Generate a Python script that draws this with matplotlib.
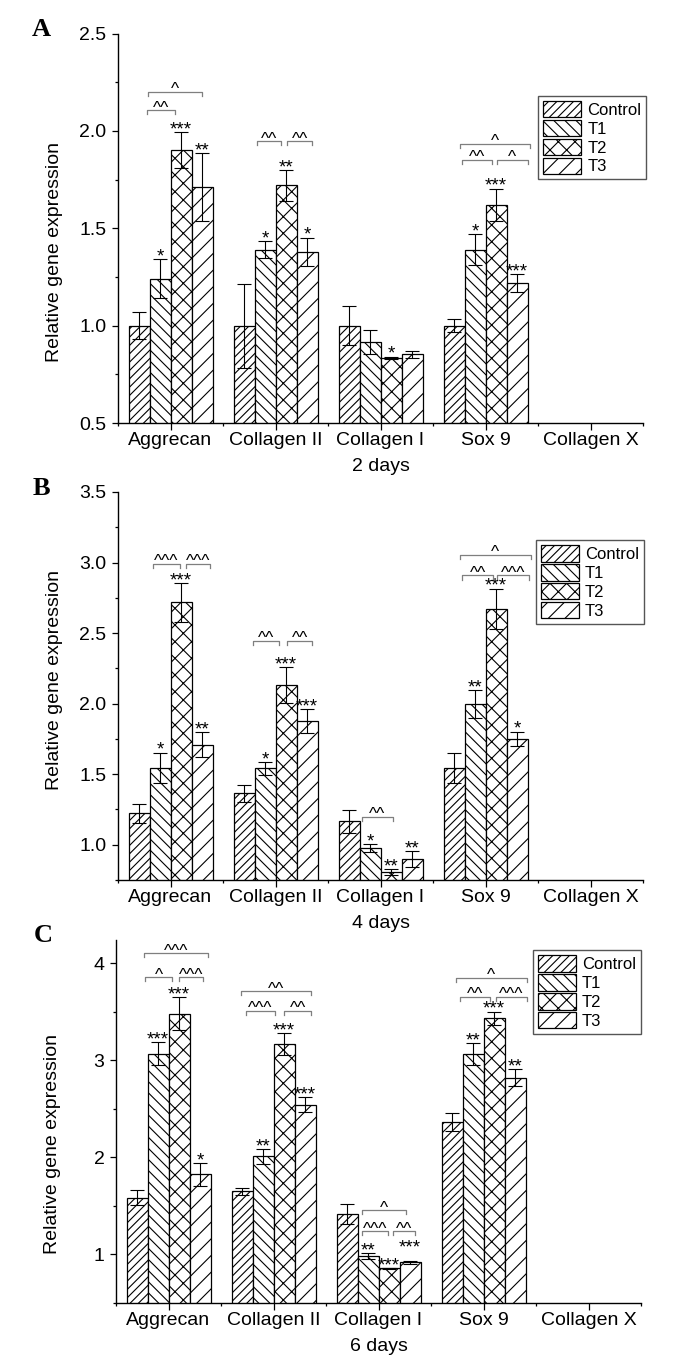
import numpy as np
import matplotlib.pyplot as plt
from matplotlib.ticker import MultipleLocator, FixedLocator

plt.rcParams['font.family'] = ['Liberation Sans', 'DejaVu Sans']
plt.rcParams['hatch.linewidth'] = 0.8

nan = np.nan

genes = ["Aggrecan", "Collagen II", "Collagen I", "Sox 9", "Collagen X"]
groups = ["Control", "T1", "T2", "T3"]
hatches = ['////', '\\\\\\', 'xx', '//']

# 2 days (rows: Control, T1, T2, T3)
day2_mean = [
    [1.00, 1.00, 1.00, 1.00, nan],
    [1.24, 1.39, 0.915, 1.39, nan],
    [1.90, 1.72, 0.836, 1.62, nan],
    [1.71, 1.38, 0.852, 1.22, nan],
]
day2_err = [
    [0.068, 0.216, 0.10, 0.034, nan],
    [0.10, 0.045, 0.06, 0.08, nan],
    [0.093, 0.08, 0.005, 0.084, nan],
    [0.175, 0.072, 0.017, 0.045, nan],
]
day2_stars = [
    ["", "", "", "", ""],
    ["*", "*", "", "*", ""],
    ["***", "**", "*", "***", ""],
    ["**", "*", "", "***", ""],
]
# (gene, left offset, right offset, height, label)
day2_brackets = [
    (0, -0.22, 0.04, 2.107, "^^"), (0, -0.21, 0.30, 2.20, "^"),
    (1, -0.18, 0.05, 1.947, "^^"), (1, 0.11, 0.35, 1.947, "^^"),
    (3, -0.22, 0.06, 1.851, "^^"), (3, 0.11, 0.40, 1.851, "^"),
    (3, -0.24, 0.42, 1.933, "^"),
]

# 4 days
day4_mean = [
    [1.222, 1.364, 1.166, 1.546, nan],
    [1.546, 1.542, 0.976, 1.996, nan],
    [2.717, 2.133, 0.806, 2.672, nan],
    [1.71, 1.877, 0.901, 1.752, nan],
]
day4_err = [
    [0.07, 0.06, 0.08, 0.107, nan],
    [0.107, 0.047, 0.031, 0.10, nan],
    [0.135, 0.128, 0.019, 0.144, nan],
    [0.09, 0.083, 0.056, 0.05, nan],
]
day4_stars = [
    ["", "", "", "", ""],
    ["*", "*", "*", "**", ""],
    ["***", "***", "**", "***", ""],
    ["**", "***", "**", "*", ""],
]
day4_brackets = [
    (0, -0.17, 0.09, 2.99, "^^^"), (0, 0.15, 0.38, 2.99, "^^^"),
    (1, -0.21, 0.03, 2.445, "^^"), (1, 0.11, 0.35, 2.445, "^^"),
    (2, -0.18, 0.12, 1.20, "^^"),
    (3, -0.22, 0.07, 2.909, "^^"), (3, 0.11, 0.41, 2.909, "^^^"),
    (3, -0.24, 0.43, 3.055, "^"),
]

# 6 days
day6_mean = [
    [1.584, 1.649, 1.419, 2.368, nan],
    [3.069, 2.01, 0.983, 3.062, nan],
    [3.481, 3.168, 0.859, 3.433, nan],
    [1.825, 2.543, 0.918, 2.821, nan],
]
day6_err = [
    [0.076, 0.038, 0.10, 0.092, nan],
    [0.117, 0.079, 0.03, 0.113, nan],
    [0.172, 0.117, 0.005, 0.07, nan],
    [0.117, 0.079, 0.013, 0.09, nan],
]
day6_stars = [
    ["", "", "", "", ""],
    ["***", "**", "**", "**", ""],
    ["***", "***", "***", "***", ""],
    ["*", "***", "***", "**", ""],
]
day6_brackets = [
    (0, -0.23, 0.38, 4.106, "^^^"), (0, -0.22, 0.03, 3.855, "^"),
    (0, 0.10, 0.33, 3.855, "^^^"),
    (1, -0.31, 0.36, 3.711, "^^"), (1, -0.26, 0.01, 3.509, "^^^"),
    (1, 0.10, 0.36, 3.509, "^^"),
    (2, -0.16, 0.26, 1.454, "^"), (2, -0.16, 0.09, 1.241, "^^^"),
    (2, 0.14, 0.35, 1.241, "^^"),
    (3, -0.26, 0.41, 3.849, "^"), (3, -0.22, 0.06, 3.656, "^^"),
    (3, 0.12, 0.41, 3.656, "^^^"),
]
day6_star_lift = {(3, 2): 0.11}

W, H = 688, 1368
fig = plt.figure(figsize=(W / 100, H / 100), dpi=100)


def draw_panel(box, letter, letter_xy, means, errs, stars, brackets, ylim,
               major, minor, days, label_y, leg_anchor, star_lift=None):
    left, top, right, bottom = box
    ax = fig.add_axes([left / W, 1 - bottom / H, (right - left) / W, (bottom - top) / H])
    star_lift = star_lift or {}
    x = np.arange(len(genes))
    width = 0.2
    span = ylim[1] - ylim[0]

    for i, g in enumerate(groups):
        m = np.array(means[i], float)
        e = np.array(errs[i], float)
        ok = ~np.isnan(m)
        xs = x[ok] + (i - 1.5) * width
        ax.bar(xs, m[ok], width, color='white', edgecolor='black', hatch=hatches[i],
               linewidth=0.9, label=g, zorder=2)
        ax.errorbar(xs, m[ok], yerr=e[ok], fmt='none', ecolor='black', elinewidth=0.8,
                    capsize=5, capthick=0.8, zorder=3)
        for j in np.where(ok)[0]:
            s = stars[i][j]
            if not s:
                continue
            y = m[j] + e[j] + star_lift.get((i, j), 0)
            ax.annotate(s, (j + (i - 1.5) * width, y), xytext=(0, -1.7),
                        textcoords='offset points', ha='center', va='baseline',
                        fontsize=13.5, zorder=4)

    for gi, x0, x1, yb, txt in brackets:
        drop = 0.011 * span
        ax.plot([gi + x0, gi + x0, gi + x1, gi + x1], [yb - drop, yb, yb, yb - drop],
                color='#7f7f7f', lw=0.9, zorder=3, clip_on=False)
        ax.annotate(txt, (gi + (x0 + x1) / 2, yb), xytext=(0, -1.8),
                    textcoords='offset points', ha='center', va='baseline', fontsize=12.5)

    ax.set_xlim(-0.5, len(genes) - 0.5)
    ax.set_ylim(*ylim)
    ax.set_xticks(x)
    ax.set_xticklabels(genes, fontsize=14)
    ax.xaxis.set_minor_locator(FixedLocator(np.arange(-0.5, len(genes), 1.0)))
    ax.yaxis.set_major_locator(MultipleLocator(major))
    ax.yaxis.set_minor_locator(MultipleLocator(minor))
    ax.tick_params(axis='x', which='major', direction='out', length=5.2, width=0.9, pad=1.5)
    ax.tick_params(axis='x', which='minor', direction='out', length=2.4, width=0.9)
    ax.tick_params(axis='y', which='major', direction='out', length=4.3, width=0.9,
                   pad=4, labelsize=14)
    ax.tick_params(axis='y', which='minor', direction='out', length=2.2, width=0.9)
    for sp in ['top', 'right']:
        ax.spines[sp].set_visible(False)
    for sp in ['left', 'bottom']:
        ax.spines[sp].set_linewidth(1.0)

    ax.set_ylabel("Relative gene expression", fontsize=14)
    ax.yaxis.set_label_coords(-0.105, label_y)
    ax.set_xlabel(days, fontsize=14, labelpad=6)

    leg = ax.legend(loc='upper right', bbox_to_anchor=leg_anchor, fontsize=12,
                    handlelength=2.3, handleheight=1.15, labelspacing=0.12,
                    handletextpad=0.35, borderpad=0.3, borderaxespad=0,
                    fancybox=False, framealpha=1, edgecolor='#555555')
    leg.get_frame().set_linewidth(1.0)

    fig.text(letter_xy[0] / W, 1 - letter_xy[1] / H, letter, fontsize=19,
             fontweight='bold', family='Liberation Serif', ha='center', va='center')
    return ax


draw_panel((118, 33.5, 643, 423), "A", (41, 30), day2_mean, day2_err, day2_stars,
           day2_brackets, (0.5, 2.5), 0.5, 0.25, "2 days", 0.439, (1.006, 0.84))
draw_panel((118, 492, 643, 880), "B", (41, 489), day4_mean, day4_err, day4_stars,
           day4_brackets, (0.75, 3.5), 0.5, 0.25, "4 days", 0.515, (1.002, 0.876))
draw_panel((116, 940, 641, 1303), "C", (43, 935), day6_mean, day6_err, day6_stars,
           day6_brackets, (0.5, 4.24), 1.0, 0.5, "6 days", 0.438, (1.0, 0.972),
           star_lift=day6_star_lift)

fig.savefig("out.png", dpi=100)
